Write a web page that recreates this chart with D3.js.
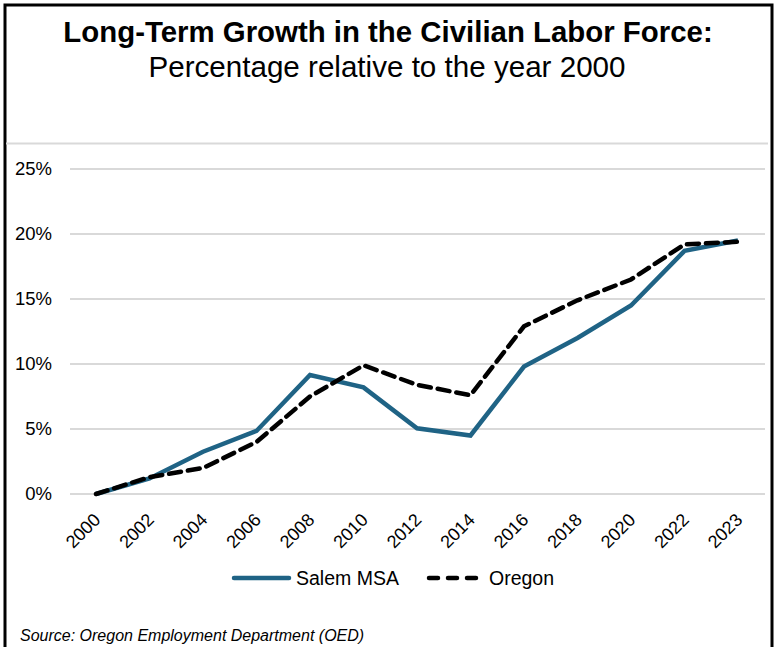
<!DOCTYPE html>
<html>
<head>
<meta charset="utf-8">
<script src="https://cdn.jsdelivr.net/npm/d3@7"></script>
<style>
  body { margin: 0; background: #fff; }
  text { font-family: Arial, "Liberation Sans", sans-serif; }
</style>
</head>
<body>
<svg id="chart" width="778" height="647"></svg>
<script>
const years = ['2000', '2002', '2004', '2006', '2008', '2010', '2012', '2014', '2016', '2018', '2020', '2022', '2023']
const salem = [0, 1.2, 3.25, 4.85, 9.15, 8.2, 5.05, 4.5, 9.8, 12.0, 14.5, 18.7, 19.5]
const oregon = [0, 1.3, 2.0, 4.0, 7.5, 9.9, 8.4, 7.6, 12.9, 14.9, 16.5, 19.2, 19.4]
const yTicks = [0, 5, 10, 15, 20, 25]

const svg = d3.select('#chart')

// frame
svg.append('path')
    .attr('d', 'M5,660 V5 H772 V660')
    .attr('fill', 'none')
    .attr('stroke', '#000')
    .attr('stroke-width', 3)
svg.append('line')
    .attr('x1', 6).attr('x2', 768)
    .attr('y1', 143.5).attr('y2', 143.5)
    .attr('stroke', '#d9d9d9')
    .attr('stroke-width', 2)

svg.append('text')
    .attr('x', 388).attr('y', 42)
    .attr('text-anchor', 'middle')
    .attr('font-size', 29.4).attr('font-weight', 'bold')
    .text('Long-Term Growth in the Civilian Labor Force:')
svg.append('text')
    .attr('x', 387).attr('y', 77)
    .attr('text-anchor', 'middle')
    .attr('font-size', 29.6)
    .text('Percentage relative to the year 2000')

const x = d3.scalePoint().domain(years).range([96, 738])
const y = d3.scaleLinear().domain([0, 25]).range([494, 169])

const grid = svg.append('g')
grid.selectAll('line')
    .data(yTicks)
    .enter()
    .append('line')
    .attr('x1', 70).attr('x2', 765)
    .attr('y1', d => y(d)).attr('y2', d => y(d))
    .attr('stroke', '#d9d9d9')
    .attr('stroke-width', 2)

const yAxis = svg.append('g')
    .attr('transform', 'translate(52,0)')
    .call(d3.axisLeft(y).tickValues(yTicks).tickFormat(d => d + '%').tickSize(0).tickPadding(0))
yAxis.select('.domain').remove()
yAxis.selectAll('text')
    .attr('font-size', 18.5).attr('fill', '#000')
    .attr('font-family', 'Arial, "Liberation Sans", sans-serif')

const xAxis = svg.append('g')
    .attr('transform', 'translate(0,494)')
    .call(d3.axisBottom(x).tickSize(0))
xAxis.select('.domain').remove()
xAxis.selectAll('text')
    .attr('font-size', 18).attr('fill', '#000')
    .attr('font-family', 'Arial, "Liberation Sans", sans-serif')
    .attr('text-anchor', 'end')
    .attr('y', 0)
    .attr('dy', 0)
    .attr('transform', 'translate(5,27) rotate(-45)')

const line = d3.line()
    .x((d, i) => x(years[i]))
    .y(d => y(d))

svg.append('path')
    .datum(salem)
    .attr('d', line)
    .attr('fill', 'none')
    .attr('stroke', '#1f6385')
    .attr('stroke-width', 4.5)
    .attr('stroke-linejoin', 'miter')

svg.append('path')
    .datum(oregon)
    .attr('d', line)
    .attr('fill', 'none')
    .attr('stroke', '#000')
    .attr('stroke-width', 4.5)
    .attr('stroke-dasharray', '12,7')
    .attr('stroke-linecap', 'round')

// legend
const legend = svg.append('g').attr('transform', 'translate(0,578)')
legend.append('line')
    .attr('x1', 234).attr('x2', 289)
    .attr('stroke', '#1f6385').attr('stroke-width', 4.5)
    .attr('stroke-linecap', 'round')
legend.append('text')
    .attr('x', 296).attr('y', 7)
    .attr('font-size', 19.5)
    .text('Salem MSA')
legend.append('line')
    .attr('x1', 429).attr('x2', 477)
    .attr('stroke', '#000').attr('stroke-width', 4.5)
    .attr('stroke-dasharray', '9,10')
    .attr('stroke-linecap', 'round')
legend.append('text')
    .attr('x', 489).attr('y', 7)
    .attr('font-size', 19.5)
    .text('Oregon')

svg.append('text')
    .attr('x', 20).attr('y', 641)
    .attr('font-size', 16)
    .attr('font-style', 'italic')
    .text('Source: Oregon Employment Department (OED)')
</script>
</body>
</html>
